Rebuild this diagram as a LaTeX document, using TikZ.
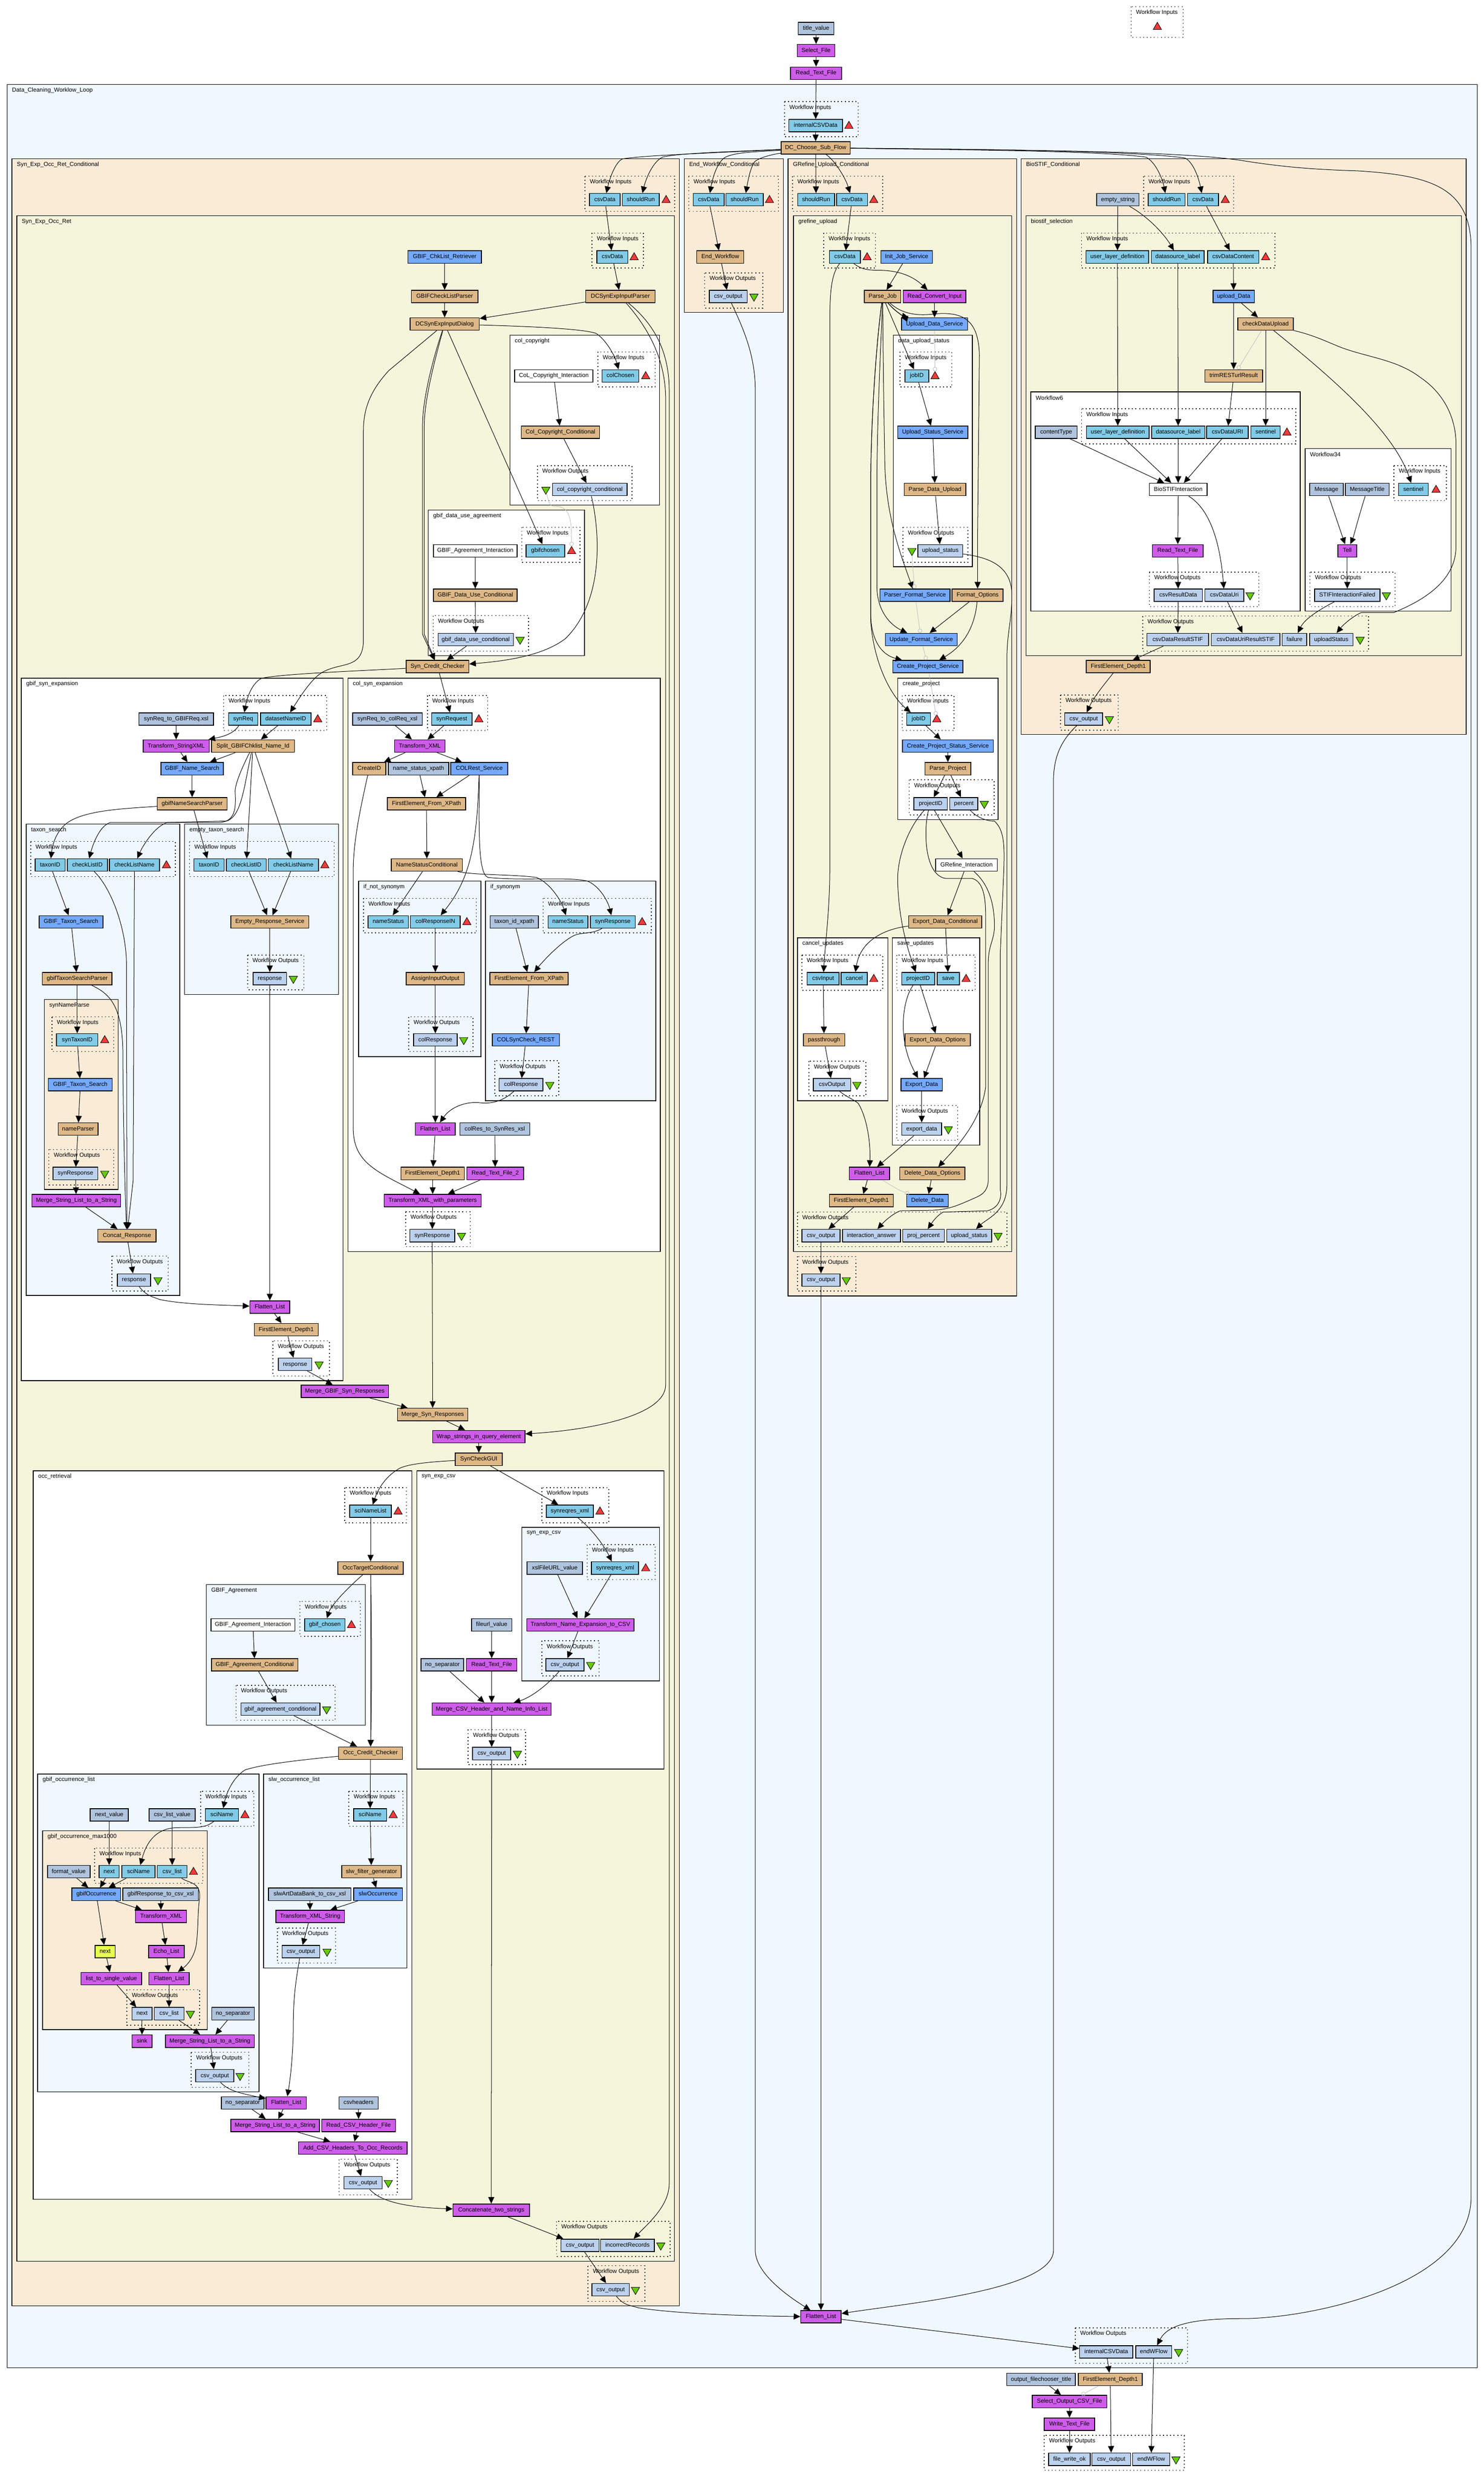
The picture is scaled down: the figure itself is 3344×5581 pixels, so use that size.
\documentclass[tikz,border=0pt]{standalone}
\usepackage{fontspec}
\setmainfont{Liberation Sans}
\usetikzlibrary{arrows.meta,shapes.geometric}
\definecolor{cinport}{HTML}{82CBE8}
\definecolor{coutport}{HTML}{BBD1EE}
\definecolor{cbean}{HTML}{DEB887}
\definecolor{cservice}{HTML}{74A9FF}
\definecolor{clocal}{HTML}{CE5CEA}
\definecolor{cconst}{HTML}{B0C4DE}
\definecolor{cnext}{HTML}{E6FF4F}
\definecolor{calice}{HTML}{F0F8FF}
\definecolor{clinen}{HTML}{FAEBD7}
\definecolor{cbeige}{HTML}{F5F5DC}
\definecolor{cred}{HTML}{F53B3B}
\definecolor{cgreen}{HTML}{66CC00}
\tikzset{
  wd/.style={minimum width=#1*0.25pt},
  wfnode/.style={draw=black, line width=.42pt, inner sep=0pt, minimum height=7pt, text height=2.4pt, text depth=.7pt, font=\fontsize{3.3}{4}\selectfont},
  inport/.style={wfnode, fill=cinport},
  outport/.style={wfnode, fill=coutport},
  bean/.style={wfnode, fill=cbean},
  service/.style={wfnode, fill=cservice},
  localw/.style={wfnode, fill=clocal},
  const/.style={wfnode, fill=cconst},
  ixn/.style={wfnode, fill=white},
  nextw/.style={wfnode, fill=cnext},
  intri/.style={draw=black, line width=.25pt, fill=cred, regular polygon, regular polygon sides=3, minimum size=5.4pt, inner sep=0pt, yshift=-.25pt},
  outtri/.style={draw=black, line width=.25pt, fill=cgreen, regular polygon, regular polygon sides=3, shape border rotate=180, minimum size=5.4pt, inner sep=0pt},
  wfframe/.style={draw=black, line width=.4pt},
  wfdots/.style={draw=black, line width=.42pt, dash pattern=on .55pt off 1.45pt},
  wflabel/.style={anchor=west, inner sep=0pt, xshift=2.6pt, yshift=-3.3pt, font=\fontsize{3.3}{4}\selectfont},
  flow/.style={draw=black, line width=.28pt, -{Triangle[length=3.75pt,width=3.4pt]}},
  ctrl/.style={draw=black!25, line width=.25pt, -{Circle[open,length=2.4pt,width=2.4pt]}},
}
\newcommand\wfgroup[6]{%
  \draw[wfframe, fill=#1] (#2,#3) rectangle (#4,#5);
  \node[wflabel] (g#2y#3) at (#2,#3) {#6};}
\newcommand\wfports[5]{%
  \draw[wfdots] (#1,#2) rectangle (#3,#4);
  \node[wflabel] (p#1y#2) at (#1,#2) {#5};}
\catcode`\_=12
\begin{document}
\begin{tikzpicture}[x=.25pt, y=-.25pt]
\useasboundingbox (0,0) rectangle (3344,5581);
% frames, outermost first
\wfgroup{calice}{16}{190}{3329}{5335}{Data_Cleaning_Worklow_Loop}
\wfgroup{clinen}{27}{358}{1531}{5195}{Syn_Exp_Occ_Ret_Conditional}
\wfgroup{cbeige}{38}{486}{1520}{5095}{Syn_Exp_Occ_Ret}
\wfgroup{white}{1149}{755}{1486}{1138}{col_copyright}
\wfgroup{white}{965}{1149}{1317}{1477}{gbif_data_use_agreement}
\wfgroup{white}{48}{1528}{773}{3111}{gbif_syn_expansion}
\wfgroup{calice}{59}{1857}{405}{2919}{taxon_search}
\wfgroup{clinen}{100}{2252}{266}{2680}{synNameParse}
\wfgroup{calice}{416}{1857}{763}{2241}{empty_taxon_search}
\wfgroup{white}{784}{1528}{1488}{2820}{col_syn_expansion}
\wfgroup{calice}{808}{1985}{1084}{2381}{if_not_synonym}
\wfgroup{calice}{1094}{1985}{1478}{2480}{if_synonym}
\wfgroup{white}{75}{3314}{928}{4955}{occ_retrieval}
\wfgroup{calice}{465}{3570}{823}{3887}{GBIF_Agreement}
\wfgroup{calice}{85}{3997}{584}{4713}{gbif_occurrence_list}
\wfgroup{clinen}{96}{4125}{467}{4573}{gbif_occurrence_max1000}
\wfgroup{calice}{594}{3997}{917}{4434}{slw_occurrence_list}
\wfgroup{white}{939}{3314}{1496}{3986}{syn_exp_csv}
\wfgroup{calice}{1176}{3441}{1486}{3787}{syn_exp_csv}
\wfgroup{clinen}{1542}{358}{1765}{704}{End_Workflow_Conditional}
\wfgroup{clinen}{1776}{358}{2291}{2920}{GRefine_Upload_Conditional}
\wfgroup{cbeige}{1788}{486}{2280}{2820}{grefine_upload}
\wfgroup{white}{2013}{755}{2191}{1277}{data_upload_status}
\wfgroup{white}{2023}{1528}{2249}{1847}{create_project}
\wfgroup{white}{1797}{2113}{2001}{2480}{cancel_updates}
\wfgroup{white}{2011}{2113}{2208}{2580}{save_updates}
\wfgroup{clinen}{2301}{358}{3304}{1655}{BioSTIF_Conditional}
\wfgroup{cbeige}{2312}{486}{3293}{1477}{biostif_selection}
\wfgroup{white}{2323}{883}{2930}{1377}{Workflow6}
\wfgroup{white}{2941}{1011}{3270}{1377}{Workflow34}
% dotted port boxes
\wfports{2549}{15}{2666}{84}{Workflow Inputs}
\wfports{1768}{229}{1934}{308}{Workflow Inputs}
\wfports{1318}{397}{1520}{476}{Workflow Inputs}
\wfports{1334}{525}{1450}{604}{Workflow Inputs}
\wfports{1347}{793}{1476}{872}{Workflow Inputs}
\wfports{1211}{1049}{1424}{1128}{Workflow Outputs}
\wfports{1176}{1188}{1307}{1267}{Workflow Inputs}
\wfports{976}{1387}{1191}{1467}{Workflow Outputs}
\wfports{504}{1567}{736}{1646}{Workflow Inputs}
\wfports{69}{1896}{395}{1975}{Workflow Inputs}
\wfports{117}{2291}{256}{2369}{Workflow Inputs}
\wfports{110}{2590}{256}{2670}{Workflow Outputs}
\wfports{252}{2830}{379}{2909}{Workflow Outputs}
\wfports{427}{1896}{753}{1975}{Workflow Inputs}
\wfports{558}{2152}{685}{2230}{Workflow Outputs}
\wfports{615}{3021}{742}{3100}{Workflow Outputs}
\wfports{963}{1567}{1099}{1646}{Workflow Inputs}
\wfports{819}{2024}{1073}{2102}{Workflow Inputs}
\wfports{921}{2291}{1066}{2369}{Workflow Outputs}
\wfports{1224}{2024}{1468}{2102}{Workflow Inputs}
\wfports{1115}{2390}{1259}{2469}{Workflow Outputs}
\wfports{914}{2730}{1060}{2809}{Workflow Outputs}
\wfports{777}{3352}{916}{3431}{Workflow Inputs}
\wfports{676}{3608}{812}{3687}{Workflow Inputs}
\wfports{532}{3797}{755}{3876}{Workflow Outputs}
\wfports{1221}{3352}{1372}{3431}{Workflow Inputs}
\wfports{1323}{3480}{1476}{3559}{Workflow Inputs}
\wfports{1221}{3697}{1350}{3776}{Workflow Outputs}
\wfports{1055}{3897}{1184}{3976}{Workflow Outputs}
\wfports{452}{4036}{572}{4115}{Workflow Inputs}
\wfports{213}{4164}{457}{4243}{Workflow Inputs}
\wfports{286}{4483}{450}{4563}{Workflow Outputs}
\wfports{431}{4624}{561}{4703}{Workflow Outputs}
\wfports{786}{4036}{908}{4115}{Workflow Inputs}
\wfports{625}{4344}{756}{4423}{Workflow Outputs}
\wfports{764}{4865}{895}{4945}{Workflow Outputs}
\wfports{1254}{5005}{1510}{5084}{Workflow Outputs}
\wfports{1325}{5105}{1453}{5185}{Workflow Outputs}
\wfports{2423}{5245}{2676}{5325}{Workflow Outputs}
\wfports{2353}{5487}{2669}{5566}{Workflow Outputs}
\wfports{1552}{397}{1754}{476}{Workflow Inputs}
\wfports{1588}{615}{1719}{694}{Workflow Outputs}
\wfports{1786}{397}{1989}{476}{Workflow Inputs}
\wfports{1856}{525}{1973}{604}{Workflow Inputs}
\wfports{2028}{793}{2145}{872}{Workflow Inputs}
\wfports{2035}{1188}{2181}{1267}{Workflow Outputs}
\wfports{2033}{1567}{2150}{1646}{Workflow Inputs}
\wfports{2049}{1757}{2240}{1836}{Workflow Outputs}
\wfports{1807}{2152}{1989}{2231}{Workflow Inputs}
\wfports{1823}{2391}{1951}{2469}{Workflow Outputs}
\wfports{2021}{2152}{2197}{2231}{Workflow Inputs}
\wfports{2021}{2491}{2158}{2569}{Workflow Outputs}
\wfports{1797}{2731}{2269}{2809}{Workflow Outputs}
\wfports{1797}{2831}{1929}{2909}{Workflow Outputs}
\wfports{2577}{397}{2780}{476}{Workflow Inputs}
\wfports{2437}{525}{2873}{604}{Workflow Inputs}
\wfports{2437}{921}{2920}{1000}{Workflow Inputs}
\wfports{2590}{1289}{2837}{1367}{Workflow Outputs}
\wfports{3141}{1049}{3259}{1128}{Workflow Inputs}
\wfports{2952}{1289}{3144}{1367}{Workflow Outputs}
\wfports{2575}{1388}{3084}{1467}{Workflow Outputs}
\wfports{2390}{1566}{2520}{1645}{Workflow Outputs}
% top of the page
\node[const, wd=80] (titleval) at (1839,64) {title_value};
\node[localw, wd=85] (selectfile) at (1839,114) {Select_File};
\node[localw, wd=115] (readtext) at (1839,165) {Read_Text_File};
\node[intri] (toptri) at (2608,60) {};
% main loop
\node[inport, wd=121] (mcsv) at (1838,283) {internalCSVData};
\node[intri] (mtri) at (1913,283) {};
\node[bean, wd=156] (dcchoose) at (1838,333) {DC_Choose_Sub_Flow};
\node[localw, wd=91] (mflat) at (1850,5220) {Flatten_List};
\node[outport, wd=120] (mocsv) at (2493,5299) {internalCSVData};
\node[outport, wd=81] (moend) at (2600,5299) {endWFlow};
\node[outtri] (motri) at (2656,5299) {};
\node[const, wd=155] (filetitle) at (2346,5361) {output_filechooser_title};
\node[bean, wd=144] (mfirst) at (2502,5361) {FirstElement_Depth1};
\node[localw, wd=168] (selectout) at (2410,5411) {Select_Output_CSV_File};
\node[localw, wd=114] (writetext) at (2410,5462) {Write_Text_File};
\node[outport, wd=94] (fileok) at (2410,5541) {file_write_ok};
\node[outport, wd=87] (fcsv) at (2504,5541) {csv_output};
\node[outport, wd=84] (fend) at (2594,5541) {endWFlow};
\node[outtri] (ftri) at (2650,5541) {};
% Syn_Exp_Occ_Ret_Conditional
\node[inport, wd=69] (scsv) at (1363,450) {csvData};
\node[inport, wd=83] (srun) at (1444,450) {shouldRun};
\node[intri] (stri) at (1501,450) {};
\node[inport, wd=70] (rcsv) at (1380,579) {csvData};
\node[intri] (rtri) at (1429,579) {};
\node[service, wd=166] (chklist) at (1002,579) {GBIF_ChkList_Retriever};
\node[bean, wd=150] (chkparser) at (1002,668) {GBIFCheckListParser};
\node[bean, wd=156] (inparser) at (1398,668) {DCSynExpInputParser};
\node[bean, wd=156] (indialog) at (1002,730) {DCSynExpInputDialog};
% col_copyright
\node[ixn, wd=176] (ccia) at (1248,847) {CoL_Copyright_Interaction};
\node[inport, wd=83] (ccin) at (1398,847) {colChosen};
\node[intri] (cctri) at (1455,847) {};
\node[bean, wd=176] (cccond) at (1263,974) {Col_Copyright_Conditional};
\node[outport, wd=168] (ccout) at (1329,1103) {col_copyright_conditional};
\node[outtri] (ccotri) at (1230,1103) {};
% gbif_data_use_agreement
\node[ixn, wd=189] (gdia) at (1071,1241) {GBIF_Agreement_Interaction};
\node[inport, wd=87] (gdin) at (1229,1241) {gbifchosen};
\node[intri] (gdtri) at (1288,1241) {};
\node[bean, wd=189] (gdcond) at (1071,1341) {GBIF_Data_Use_Conditional};
\node[outport, wd=170] (gdout) at (1072,1441) {gbif_data_use_conditional};
\node[outtri] (gdotri) at (1172,1441) {};
\node[bean, wd=141] (syncredit) at (986,1502) {Syn_Credit_Checker};
% gbif_syn_expansion
\node[const, wd=168] (gsxsl) at (397,1620) {synReq_to_GBIFReq.xsl};
\node[inport, wd=66] (gsreq) at (548,1620) {synReq};
\node[inport, wd=114] (gsdata) at (644,1620) {datasetNameID};
\node[intri] (gstri) at (716,1620) {};
\node[localw, wd=149] (gstrans) at (397,1681) {Transform_StringXML};
\node[bean, wd=187] (gssplit) at (570,1681) {Split_GBIFChklist_Name_Id};
\node[service, wd=141] (gssearch) at (433,1732) {GBIF_Name_Search};
\node[bean, wd=157] (gsparser) at (433,1811) {gbifNameSearchParser};
% taxon_search
\node[inport, wd=68] (tstaxon) at (113,1949) {taxonID};
\node[inport, wd=90] (tsid) at (197,1949) {checkListID};
\node[inport, wd=113] (tsname) at (303,1949) {checkListName};
\node[intri] (tstri) at (375,1949) {};
\node[service, wd=144] (tssearch) at (160,2077) {GBIF_Taxon_Search};
\node[bean, wd=157] (tsparser) at (174,2205) {gbifTaxonSearchParser};
\node[inport, wd=93] (sntaxon) at (174,2343) {synTaxonID};
\node[intri] (sntri) at (236,2343) {};
\node[service, wd=144] (snsearch) at (181,2444) {GBIF_Taxon_Search};
\node[bean, wd=90] (snparser) at (176,2544) {nameParser};
\node[outport, wd=101] (snout) at (170,2644) {synResponse};
\node[outtri] (snotri) at (236,2644) {};
\node[localw, wd=200] (tsmerge) at (172,2705) {Merge_String_List_to_a_String};
\node[bean, wd=131] (tsconcat) at (286,2784) {Concat_Response};
\node[outport, wd=75] (tsout) at (302,2884) {response};
\node[outtri] (tsotri) at (356,2884) {};
% empty_taxon_search
\node[inport, wd=68] (ettaxon) at (471,1949) {taxonID};
\node[inport, wd=90] (etid) at (555,1949) {checkListID};
\node[inport, wd=113] (etname) at (661,1949) {checkListName};
\node[intri] (ettri) at (732,1949) {};
\node[bean, wd=176] (etservice) at (608,2077) {Empty_Response_Service};
\node[outport, wd=75] (etout) at (608,2205) {response};
\node[outtri] (etotri) at (661,2205) {};
\node[localw, wd=90] (gsflat) at (608,2945) {Flatten_List};
\node[bean, wd=144] (gsfirst) at (645,2996) {FirstElement_Depth1};
\node[outport, wd=75] (gsout) at (665,3074) {response};
\node[outtri] (gsotri) at (719,3074) {};
\node[localw, wd=197] (gsmerge) at (777,3135) {Merge_GBIF_Syn_Responses};
% col_syn_expansion
\node[const, wd=157] (csxsl) at (873,1620) {synReq_to_colReq_xsl};
\node[inport, wd=91] (csreq) at (1018,1620) {synRequest};
\node[intri] (cstri) at (1079,1620) {};
\node[localw, wd=114] (cstrans) at (946,1681) {Transform_XML};
\node[bean, wd=75] (cscreate) at (832,1732) {CreateID};
\node[const, wd=136] (csxpath) at (943,1732) {name_status_xpath};
\node[service, wd=128] (csrest) at (1080,1732) {COLRest_Service};
\node[bean, wd=176] (csfirst) at (961,1811) {FirstElement_From_XPath};
\node[bean, wd=160] (cscond) at (962,1949) {NameStatusConditional};
% if_not_synonym
\node[inport, wd=91] (nsname) at (875,2077) {nameStatus};
\node[inport, wd=112] (nsresp) at (981,2077) {colResponseIN};
\node[intri] (nstri) at (1052,2077) {};
\node[bean, wd=131] (nsassign) at (981,2205) {AssignInputOutput};
\node[outport, wd=98] (nsout) at (981,2343) {colResponse};
\node[outtri] (nsotri) at (1045,2343) {};
% if_synonym
\node[const, wd=109] (ysxpath) at (1159,2077) {taxon_id_xpath};
\node[inport, wd=90] (ysname) at (1280,2077) {nameStatus};
\node[inport, wd=101] (ysresp) at (1381,2077) {synResponse};
\node[intri] (ystri) at (1447,2077) {};
\node[bean, wd=176] (ysfirst) at (1192,2205) {FirstElement_From_XPath};
\node[service, wd=151] (ysrest) at (1185,2343) {COLSynCheck_REST};
\node[outport, wd=99] (ysout) at (1174,2444) {colResponse};
\node[outtri] (ysotri) at (1239,2444) {};
\node[localw, wd=90] (csflat) at (981,2544) {Flatten_List};
\node[const, wd=157] (csresxsl) at (1115,2544) {colRes_to_SynRes_xsl};
\node[bean, wd=143] (csdepth) at (975,2644) {FirstElement_Depth1};
\node[localw, wd=128] (csread) at (1116,2644) {Read_Text_File_2};
\node[localw, wd=219] (cstransp) at (975,2705) {Transform_XML_with_parameters};
\node[outport, wd=101] (csout) at (974,2784) {synResponse};
\node[outtri] (csotri) at (1040,2784) {};
\node[bean, wd=158] (mergesyn) at (975,3187) {Merge_Syn_Responses};
\node[localw, wd=208] (wrapq) at (1079,3237) {Wrap_strings_in_query_element};
\node[bean, wd=106] (syncheck) at (1079,3288) {SynCheckGUI};
% occ_retrieval
\node[inport, wd=94] (orname) at (835,3405) {sciNameList};
\node[intri] (ortri) at (897,3405) {};
\node[bean, wd=147] (ortarget) at (835,3533) {OccTargetConditional};
\node[ixn, wd=189] (gaia) at (570,3661) {GBIF_Agreement_Interaction};
\node[inport, wd=91] (gain) at (732,3661) {gbif_chosen};
\node[intri] (gatri) at (792,3661) {};
\node[bean, wd=195] (gacond) at (574,3751) {GBIF_Agreement_Conditional};
\node[outport, wd=178] (gaout) at (632,3851) {gbif_agreement_conditional};
\node[outtri] (gaotri) at (736,3851) {};
\node[bean, wd=144] (occredit) at (835,3950) {Occ_Credit_Checker};
% gbif_occurrence_list
\node[const, wd=86] (olnext) at (246,4089) {next_value};
\node[const, wd=104] (olcsv) at (388,4089) {csv_list_value};
\node[inport, wd=75] (olname) at (500,4089) {sciName};
\node[intri] (oltri) at (552,4089) {};
\node[const, wd=96] (mxformat) at (155,4217) {format_value};
\node[inport, wd=45] (mxnext) at (246,4217) {next};
\node[inport, wd=75] (mxname) at (312,4217) {sciName};
\node[inport, wd=67] (mxcsv) at (388,4217) {csv_list};
\node[intri] (mxtri) at (436,4217) {};
\node[service, wd=110] (mxocc) at (217,4268) {gbifOccurrence};
\node[const, wd=170] (mxxsl) at (362,4268) {gbifResponse_to_csv_xsl};
\node[localw, wd=115] (mxtrans) at (363,4318) {Transform_XML};
\node[nextw, wd=45] (mxyes) at (237,4397) {next};
\node[localw, wd=80] (mxecho) at (375,4397) {Echo_List};
\node[localw, wd=137] (mxsingle) at (251,4458) {list_to_single_value};
\node[localw, wd=91] (mxflat) at (381,4458) {Flatten_List};
\node[outport, wd=45] (mxonext) at (320,4537) {next};
\node[outport, wd=67] (mxocsv) at (381,4537) {csv_list};
\node[outtri] (mxotri) at (429,4537) {};
\node[const, wd=96] (olsep) at (525,4537) {no_separator};
\node[localw, wd=45] (olsink) at (320,4599) {sink};
\node[localw, wd=200] (olmerge) at (473,4599) {Merge_String_List_to_a_String};
\node[outport, wd=86] (olout) at (484,4677) {csv_output};
\node[outtri] (olotri) at (541,4677) {};
% slw_occurrence_list
\node[inport, wd=74] (swname) at (834,4089) {sciName};
\node[intri] (swtri) at (886,4089) {};
\node[bean, wd=134] (swfilter) at (837,4217) {slw_filter_generator};
\node[const, wd=186] (swxsl) at (698,4268) {slwArtDataBank_to_csv_xsl};
\node[service, wd=110] (swocc) at (852,4268) {slwOccurrence};
\node[localw, wd=155] (swtrans) at (699,4318) {Transform_XML_String};
\node[outport, wd=85] (swout) at (678,4397) {csv_output};
\node[outtri] (swotri) at (737,4397) {};
\node[const, wd=96] (orsep) at (547,4738) {no_separator};
\node[localw, wd=91] (orflat) at (645,4738) {Flatten_List};
\node[const, wd=88] (orheads) at (808,4738) {csvheaders};
\node[localw, wd=200] (ormerge) at (620,4789) {Merge_String_List_to_a_String};
\node[localw, wd=166] (orread) at (808,4789) {Read_CSV_Header_File};
\node[localw, wd=245] (oradd) at (795,4840) {Add_CSV_Headers_To_Occ_Records};
\node[outport, wd=86] (orout) at (818,4918) {csv_output};
\node[outtri] (orotri) at (875,4918) {};
% syn_exp_csv
\node[inport, wd=106] (seres) at (1284,3405) {synreqres_xml};
\node[intri] (setri) at (1352,3405) {};
\node[const, wd=125] (sixsl) at (1250,3533) {xslFileURL_value};
\node[inport, wd=106] (sires) at (1386,3533) {synreqres_xml};
\node[intri] (sitri) at (1455,3533) {};
\node[localw, wd=242] (sitrans) at (1308,3661) {Transform_Name_Expansion_to_CSV};
\node[outport, wd=86] (siout) at (1273,3751) {csv_output};
\node[outtri] (siotri) at (1331,3751) {};
\node[const, wd=91] (sefile) at (1108,3661) {fileurl_value};
\node[const, wd=96] (sesep) at (997,3751) {no_separator};
\node[localw, wd=114] (seread) at (1108,3751) {Read_Text_File};
\node[localw, wd=268] (semerge) at (1108,3851) {Merge_CSV_Header_and_Name_Info_List};
\node[outport, wd=86] (seout) at (1108,3951) {csv_output};
\node[outtri] (seotri) at (1166,3951) {};
\node[localw, wd=172] (concat) at (1107,4980) {Concatenate_two_strings};
\node[outport, wd=86] (rcsvout) at (1307,5059) {csv_output};
\node[outport, wd=121] (rbad) at (1414,5059) {incorrectRecords};
\node[outtri] (rotri) at (1489,5059) {};
\node[outport, wd=84] (scsvout) at (1376,5159) {csv_output};
\node[outtri] (sotri) at (1432,5159) {};
% End_Workflow_Conditional
\node[inport, wd=70] (ecsv) at (1597,450) {csvData};
\node[inport, wd=84] (erun) at (1678,450) {shouldRun};
\node[intri] (etri) at (1734,450) {};
\node[bean, wd=106] (eend) at (1623,579) {End_Workflow};
\node[outport, wd=85] (eout) at (1641,668) {csv_output};
\node[outtri] (eotri) at (1699,668) {};
% GRefine_Upload_Conditional
\node[inport, wd=83] (urun) at (1839,450) {shouldRun};
\node[inport, wd=70] (ucsv) at (1920,450) {csvData};
\node[intri] (utri) at (1969,450) {};
\node[inport, wd=70] (gucsv) at (1904,579) {csvData};
\node[intri] (gutri) at (1954,579) {};
\node[service, wd=116] (guinit) at (2043,579) {Init_Job_Service};
\node[bean, wd=82] (guparse) at (1989,668) {Parse_Job};
\node[localw, wd=141] (guread) at (2106,668) {Read_Convert_Input};
\node[service, wd=149] (guupload) at (2106,730) {Upload_Data_Service};
\node[inport, wd=54] (dujob) at (2066,847) {jobID};
\node[intri] (dutri) at (2107,847) {};
\node[service, wd=158] (dustatus) at (2102,974) {Upload_Status_Service};
\node[bean, wd=139] (duparse) at (2107,1103) {Parse_Data_Upload};
\node[outport, wd=101] (duout) at (2119,1241) {upload_status};
\node[outtri] (duotri) at (2055,1241) {};
\node[service, wd=158] (guformat) at (2062,1341) {Parser_Format_Service};
\node[bean, wd=115] (guoptions) at (2203,1341) {Format_Options};
\node[service, wd=162] (guupdate) at (2076,1441) {Update_Format_Service};
\node[service, wd=158] (gucreate) at (2091,1502) {Create_Project_Service};
\node[inport, wd=54] (cpjob) at (2070,1620) {jobID};
\node[intri] (cptri) at (2111,1620) {};
\node[service, wd=205] (cpstatus) at (2136,1681) {Create_Project_Status_Service};
\node[bean, wd=103] (cpparse) at (2136,1732) {Parse_Project};
\node[outport, wd=75] (cpid) at (2097,1811) {projectID};
\node[outport, wd=63] (cppct) at (2172,1811) {percent};
\node[outtri] (cpotri) at (2218,1811) {};
\node[ixn, wd=139] (guixn) at (2178,1949) {GRefine_Interaction};
\node[bean, wd=165] (guexport) at (2130,2077) {Export_Data_Conditional};
% cancel_updates
\node[inport, wd=72] (cuin) at (1855,2205) {csvInput};
\node[inport, wd=59] (cucancel) at (1925,2205) {cancel};
\node[intri] (cutri) at (1969,2205) {};
\node[bean, wd=93] (cupass) at (1857,2343) {passthrough};
\node[outport, wd=84] (cuout) at (1875,2444) {csvOutput};
\node[outtri] (cuotri) at (1931,2444) {};
% save_updates
\node[inport, wd=74] (suid) at (2069,2205) {projectID};
\node[inport, wd=50] (susave) at (2137,2205) {save};
\node[intri] (sutri) at (2177,2205) {};
\node[bean, wd=147] (suopts) at (2113,2343) {Export_Data_Options};
\node[service, wd=93] (suexport) at (2077,2444) {Export_Data};
\node[outport, wd=90] (suout) at (2077,2544) {export_data};
\node[outtri] (suotri) at (2137,2544) {};
\node[localw, wd=91] (guflat) at (1959,2644) {Flatten_List};
\node[bean, wd=147] (gudelopts) at (2101,2644) {Delete_Data_Options};
\node[bean, wd=144] (gufirst) at (1941,2705) {FirstElement_Depth1};
\node[service, wd=94] (gudelete) at (2090,2705) {Delete_Data};
\node[outport, wd=86] (guocsv) at (1850,2784) {csv_output};
\node[outport, wd=131] (guoans) at (1964,2784) {interaction_answer};
\node[outport, wd=94] (guopct) at (2081,2784) {proj_percent};
\node[outport, wd=101] (guostat) at (2184,2784) {upload_status};
\node[outtri] (guotri) at (2249,2784) {};
\node[outport, wd=86] (uout) at (1850,2884) {csv_output};
\node[outtri] (uotri) at (1907,2884) {};
% BioSTIF_Conditional
\node[const, wd=95] (bempty) at (2519,450) {empty_string};
\node[inport, wd=83] (brun) at (2629,450) {shouldRun};
\node[inport, wd=70] (bcsv) at (2711,450) {csvData};
\node[intri] (btri) at (2761,450) {};
\node[inport, wd=141] (buser) at (2518,579) {user_layer_definition};
\node[inport, wd=119] (bslabel) at (2654,579) {datasource_label};
\node[inport, wd=116] (bscontent) at (2779,579) {csvDataContent};
\node[intri] (bstri) at (2852,579) {};
\node[service, wd=93] (bsupload) at (2780,668) {upload_Data};
\node[bean, wd=125] (bscheck) at (2852,730) {checkDataUpload};
\node[bean, wd=130] (bstrim) at (2780,847) {trimRESTurlResult};
\node[const, wd=94] (wsctype) at (2380,974) {contentType};
\node[inport, wd=141] (wsuser) at (2519,974) {user_layer_definition};
\node[inport, wd=120] (wslabel) at (2655,974) {datasource_label};
\node[inport, wd=94] (wsuri) at (2766,974) {csvDataURI};
\node[inport, wd=66] (wssent) at (2852,974) {sentinel};
\node[intri] (wstri) at (2900,974) {};
\node[ixn, wd=130] (wsixn) at (2655,1103) {BioSTIFInteraction};
\node[localw, wd=114] (wsread) at (2654,1241) {Read_Text_File};
\node[outport, wd=109] (wsres) at (2655,1341) {csvResultData};
\node[outport, wd=88] (wsresuri) at (2759,1341) {csvDataUri};
\node[outtri] (wsotri) at (2817,1341) {};
\node[const, wd=76] (wtmsg) at (2989,1103) {Message};
\node[const, wd=99] (wttitle) at (3081,1103) {MessageTitle};
\node[inport, wd=67] (wtsent) at (3185,1103) {sentinel};
\node[intri] (wttri) at (3236,1103) {};
\node[localw, wd=42] (wttell) at (3036,1241) {Tell};
\node[outport, wd=147] (wtout) at (3036,1341) {STIFInteractionFailed};
\node[outtri] (wtotri) at (3124,1341) {};
\node[outport, wd=139] (bsres) at (2654,1441) {csvDataResultSTIF};
\node[outport, wd=155] (bsuri) at (2807,1441) {csvDataUriResultSTIF};
\node[outport, wd=55] (bsfail) at (2917,1441) {failure};
\node[outport, wd=98] (bsstat) at (3000,1441) {uploadStatus};
\node[outtri] (bsotri) at (3065,1441) {};
\node[bean, wd=144] (bfirst) at (2520,1502) {FirstElement_Depth1};
\node[outport, wd=85] (bout) at (2442,1620) {csv_output};
\node[outtri] (botri) at (2500,1620) {};
% connectors, top of the page and main loop
\draw[flow] (titleval) -- (selectfile);
\draw[flow] (selectfile) -- (readtext);
\draw[flow] (readtext) -- (mcsv);
\draw[flow] (mcsv) -- (dcchoose);
\draw[flow] (dcchoose) .. controls (1600,345) and (1450,350) .. (1403,358) .. controls (1385,365) and (1372,410) .. (scsv);
\draw[flow] (dcchoose) .. controls (1640,342) and (1530,345) .. (1493,354) .. controls (1470,365) and (1455,405) .. (srun);
\draw[flow] (dcchoose) .. controls (1710,342) and (1660,342) .. (1635,354) .. controls (1615,365) and (1605,405) .. (ecsv);
\draw[flow] (dcchoose) .. controls (1740,348) and (1710,355) .. (1700,365) .. controls (1690,380) and (1685,410) .. (erun);
\draw[flow] (dcchoose) -- (urun);
\draw[flow] (dcchoose) .. controls (1880,360) and (1905,400) .. (ucsv);
\draw[flow] (dcchoose) .. controls (2200,338) and (2480,340) .. (2582,354) .. controls (2605,365) and (2620,405) .. (brun);
\draw[flow] (dcchoose) .. controls (2200,336) and (2560,340) .. (2670,356) .. controls (2690,365) and (2702,405) .. (bcsv);
\draw[flow] (dcchoose) .. controls (2300,338) and (2650,340) .. (2794,361) .. controls (2900,378) and (2970,382) .. (3060,385) .. controls (3220,395) and (3315,420) .. (3315,560) -- (3315,4950) .. controls (3315,5150) and (2950,5224) .. (2800,5224) .. controls (2680,5224) and (2630,5240) .. (moend);
\draw[flow] (mflat) -- (mocsv);
\draw[flow] (mocsv) -- (mfirst);
\draw[flow] (filetitle) -- (selectout);
\draw[ctrl] (mfirst) -- (selectout);
\draw[flow] (selectout) -- (writetext);
\draw[flow] (writetext) -- (fileok);
\draw[flow] (mfirst) -- (fcsv);
\draw[flow] (moend) -- (fend);
% Syn_Exp_Occ_Ret
\draw[flow] (scsv) -- (rcsv);
\draw[flow] (rcsv) -- (inparser);
\draw[flow] (chklist) -- (chkparser);
\draw[flow] (chkparser) -- (indialog);
\draw[flow] (inparser) -- (indialog);
\draw[flow] (inparser) .. controls (1470,750) and (1500,820) .. (1500,900) -- (1500,3120) .. controls (1500,3190) and (1330,3222) .. (wrapq);
\draw[flow] (inparser) .. controls (1480,735) and (1508,800) .. (1508,880) -- (1508,4920) .. controls (1508,4970) and (1460,5010) .. (rbad);
\draw[flow] (indialog) .. controls (1180,735) and (1310,740) .. (1343,751) .. controls (1365,765) and (1385,800) .. (ccin);
\draw[flow] (indialog) -- (gdin);
\draw[flow] (indialog) -- (876,835) .. controls (835,880) and (819,920) .. (819,970) -- (819,1440) .. controls (819,1510) and (770,1490) .. (726,1515) .. controls (700,1530) and (670,1580) .. (gsdata);
\draw[flow] (indialog) .. controls (975,810) and (952,900) .. (952,961) -- (952,1429) -- (syncredit);
\draw[flow] (indialog) .. controls (980,810) and (956,900) .. (956,961) -- (956,1429) -- (syncredit);
\draw[flow] (ccia) -- (cccond);
\draw[flow] (cccond) -- (ccout);
\draw[ctrl] (ccotri) .. controls (1236,1130) and (1238,1141) .. (1250,1141) .. controls (1285,1140) and (1288,1170) .. (gdtri);
\draw[flow] (ccout) .. controls (1350,1190) and (1365,1350) .. (1274,1439) .. controls (1220,1480) and (1130,1490) .. (syncredit);
\draw[flow] (gdia) -- (gdcond);
\draw[flow] (gdcond) -- (gdout);
\draw[flow] (gdout) -- (syncredit);
% gbif_syn_expansion
\draw[flow] (syncredit) .. controls (800,1512) and (640,1518) .. (590,1528) .. controls (565,1540) and (555,1580) .. (gsreq);
\draw[flow] (gsxsl) -- (gstrans);
\draw[flow] (gsreq) .. controls (525,1655) and (500,1660) .. (gstrans);
\draw[flow] (gsdata) -- (gssplit);
\draw[flow] (gstrans) -- (gssearch);
\draw[flow] (gssplit) -- (gssearch);
\draw[flow] (gssearch) -- (gsparser);
\draw[flow] (gsparser) .. controls (280,1822) and (190,1825) .. (150,1855) .. controls (125,1875) and (118,1905) .. (tstaxon);
\draw[flow] (gsparser) -- (ettaxon);
\draw[flow] (gssplit) .. controls (545,1730) and (528,1770) .. (530,1786) .. controls (532,1820) and (530,1850) .. (497,1853) -- (249,1853) .. controls (225,1860) and (210,1900) .. (tsid);
\draw[flow] (gssplit) .. controls (550,1770) and (545,1840) .. (510,1850) -- (378,1853) .. controls (350,1860) and (322,1905) .. (tsname);
\draw[flow] (gssplit) -- (etid);
\draw[flow] (gssplit) -- (etname);
\draw[flow] (tstaxon) -- (tssearch);
\draw[flow] (tssearch) -- (tsparser);
\draw[flow] (tsparser) -- (sntaxon);
\draw[flow] (tsparser) .. controls (250,2240) and (277,2270) .. (277,2380) .. controls (277,2500) and (282,2700) .. (tsconcat);
\draw[flow] (tsid) .. controls (250,2000) and (284,2090) .. (285,2170) -- (286,2700) -- (tsconcat);
\draw[flow] (tsname) -- (300,2660) -- (tsconcat);
\draw[flow] (sntaxon) -- (snsearch);
\draw[flow] (snsearch) -- (snparser);
\draw[flow] (snparser) -- (snout);
\draw[flow] (snout) -- (tsmerge);
\draw[flow] (tsmerge) -- (tsconcat);
\draw[flow] (tsconcat) -- (tsout);
\draw[flow] (tsout) .. controls (330,2920) and (345,2922) .. (360,2928) .. controls (420,2940) and (500,2940) .. (gsflat);
\draw[flow] (etid) -- (etservice);
\draw[flow] (etname) -- (etservice);
\draw[flow] (etservice) -- (etout);
\draw[flow] (etout) -- (gsflat);
\draw[flow] (gsflat) -- (gsfirst);
\draw[flow] (gsfirst) -- (gsout);
\draw[flow] (gsout) -- (gsmerge);
\draw[flow] (gsmerge) -- (mergesyn);
% col_syn_expansion
\draw[flow] (syncredit) -- (csreq);
\draw[flow] (csxsl) -- (cstrans);
\draw[flow] (csreq) -- (cstrans);
\draw[flow] (cstrans) -- (cscreate);
\draw[flow] (cstrans) -- (csrest);
\draw[flow] (csxpath) -- (csfirst);
\draw[flow] (csrest) -- (csfirst);
\draw[flow] (csfirst) -- (cscond);
\draw[flow] (cscond) -- (nsname);
\draw[flow] (cscond) .. controls (1070,1972) and (1160,1970) .. (1209,1977) .. controls (1240,1990) and (1265,2030) .. (ysname);
\draw[flow] (csrest) .. controls (1075,1900) and (1060,1980) .. (nsresp);
\draw[flow] (csrest) .. controls (1080,1850) and (1075,1970) .. (1100,1977) .. controls (1180,1985) and (1280,1975) .. (1323,1985) .. controls (1350,1995) and (1370,2030) .. (ysresp);
\draw[flow] (nsresp) -- (nsassign);
\draw[flow] (nsassign) -- (nsout);
\draw[flow] (nsout) -- (csflat);
\draw[flow] (ysxpath) -- (ysfirst);
\draw[flow] (ysresp) .. controls (1335,2105) and (1310,2100) .. (1293,2108) .. controls (1260,2125) and (1220,2170) .. (ysfirst);
\draw[flow] (ysfirst) -- (ysrest);
\draw[flow] (ysrest) -- (ysout);
\draw[flow] (ysout) .. controls (1135,2480) and (1110,2487) .. (1085,2485) .. controls (1050,2480) and (1015,2495) .. (csflat);
\draw[flow] (csflat) -- (csdepth);
\draw[flow] (csresxsl) -- (csread);
\draw[flow] (csdepth) -- (cstransp);
\draw[flow] (csread) -- (cstransp);
\draw[flow] (cscreate) .. controls (810,1830) and (796,1900) .. (796,1962) -- (796,2542) .. controls (796,2620) and (850,2640) .. (cstransp);
\draw[flow] (cstransp) -- (csout);
\draw[flow] (csout) -- (mergesyn);
\draw[flow] (mergesyn) -- (wrapq);
\draw[flow] (wrapq) -- (syncheck);
% occ_retrieval
\draw[flow] (syncheck) .. controls (960,3294) and (910,3300) .. (896,3311) .. controls (865,3330) and (850,3360) .. (orname);
\draw[flow] (orname) -- (ortarget);
\draw[flow] (ortarget) .. controls (775,3585) and (745,3620) .. (gain);
\draw[flow] (ortarget) -- (occredit);
\draw[flow] (ortarget) .. controls (838,3700) and (838,3800) .. (occredit);
\draw[flow] (gaia) -- (gacond);
\draw[flow] (gacond) -- (gaout);
\draw[flow] (gaout) -- (occredit);
\draw[flow] (occredit) .. controls (680,3965) and (590,3975) .. (552,3988) .. controls (525,4005) and (510,4040) .. (olname);
\draw[flow] (occredit) -- (swname);
\draw[flow] (olnext) -- (mxnext);
\draw[flow] (olcsv) -- (mxcsv);
\draw[flow] (olname) .. controls (462,4120) and (440,4117) .. (400,4118) .. controls (340,4118) and (325,4170) .. (mxname);
\draw[flow] (mxformat) -- (mxocc);
\draw[flow] (mxnext) -- (mxocc);
\draw[flow] (mxname) -- (mxocc);
\draw[flow] (mxcsv) .. controls (425,4243) and (452,4240) .. (450,4275) .. controls (445,4310) and (447,4340) .. (443,4376) .. controls (440,4405) and (425,4425) .. (mxflat);
\draw[flow] (mxocc) -- (mxtrans);
\draw[flow] (mxxsl) -- (mxtrans);
\draw[flow] (mxocc) -- (mxyes);
\draw[flow] (mxtrans) -- (mxecho);
\draw[flow] (mxecho) -- (mxflat);
\draw[flow] (mxyes) -- (mxsingle);
\draw[flow] (mxsingle) -- (mxonext);
\draw[flow] (mxflat) -- (mxocsv);
\draw[flow] (mxonext) -- (olsink);
\draw[flow] (mxocsv) -- (olmerge);
\draw[flow] (olsep) -- (olmerge);
\draw[flow] (olmerge) -- (olout);
\draw[flow] (olout) .. controls (515,4712) and (550,4718) .. (orflat);
\draw[flow] (swname) -- (swfilter);
\draw[flow] (swfilter) -- (swocc);
\draw[flow] (swxsl) -- (swtrans);
\draw[flow] (swocc) -- (swtrans);
\draw[flow] (swtrans) -- (swout);
\draw[flow] (swout) .. controls (665,4470) and (661,4510) .. (661,4560) .. controls (661,4620) and (655,4680) .. (orflat);
\draw[flow] (orsep) -- (ormerge);
\draw[flow] (orflat) -- (ormerge);
\draw[flow] (orheads) -- (orread);
\draw[flow] (ormerge) -- (oradd);
\draw[flow] (orread) -- (oradd);
\draw[flow] (oradd) -- (orout);
\draw[flow] (orout) .. controls (850,4950) and (880,4972) .. (concat);
% syn_exp_csv
\draw[flow] (syncheck) -- (seres);
\draw[flow] (seres) .. controls (1340,3450) and (1365,3490) .. (sires);
\draw[flow] (sixsl) -- (sitrans);
\draw[flow] (sires) -- (sitrans);
\draw[flow] (sitrans) -- (siout);
\draw[flow] (siout) .. controls (1230,3800) and (1195,3825) .. (semerge);
\draw[flow] (sefile) -- (seread);
\draw[flow] (sesep) -- (semerge);
\draw[flow] (seread) -- (semerge);
\draw[flow] (semerge) -- (seout);
\draw[flow] (seout) -- (concat);
\draw[flow] (concat) -- (rcsvout);
\draw[flow] (rcsvout) -- (scsvout);
\draw[flow] (scsvout) .. controls (1405,5192) and (1410,5192) .. (1440,5200) .. controls (1540,5215) and (1700,5218) .. (mflat);
% End_Workflow_Conditional
\draw[flow] (ecsv) -- (eend);
\draw[flow] (eend) -- (eout);
\draw[flow] (eout) .. controls (1675,740) and (1702,800) .. (1702,880) -- (1702,5070) .. controls (1702,5120) and (1770,5170) .. (mflat);
% GRefine_Upload_Conditional
\draw[flow] (ucsv) -- (gucsv);
\draw[flow] (gucsv) .. controls (1935,602) and (1945,609) .. (1980,609) .. controls (2030,609) and (2060,625) .. (guread);
\draw[flow] (gucsv) .. controls (1875,615) and (1870,650) .. (1870,720) -- (1870,1950) .. controls (1870,2050) and (1860,2120) .. (cuin);
\draw[flow] (guinit) -- (guparse);
\draw[flow] (guparse) .. controls (2015,700) and (2035,712) .. (guupload);
\draw[flow] (guparse) .. controls (2020,705) and (2045,718) .. (guupload);
\draw[flow] (guread) -- (guupload);
\draw[flow] (guparse) .. controls (2030,705) and (2060,712) .. (2100,708) .. controls (2170,700) and (2205,720) .. (2207,800) -- (2203,1200) -- (guoptions);
\draw[flow] (guparse) -- (dujob);
\draw[flow] (guparse) .. controls (1990,800) and (1992,950) .. (1994,1050) .. controls (1998,1170) and (2030,1250) .. (guformat);
\draw[flow] (guparse) .. controls (1985,780) and (1976,950) .. (1976,1100) -- (1976,1320) .. controls (1976,1380) and (2010,1410) .. (guupdate);
\draw[flow] (guparse) .. controls (1975,770) and (1962,950) .. (1962,1100) -- (1962,1380) .. controls (1962,1440) and (1985,1475) .. (gucreate);
\draw[flow] (guparse) .. controls (1975,770) and (1962,950) .. (1962,1100) -- (1962,1400) .. controls (1970,1500) and (2010,1570) .. (cpjob);
\draw[ctrl] (guupload) -- (dutri);
\draw[flow] (dujob) -- (dustatus);
\draw[flow] (dustatus) -- (duparse);
\draw[flow] (duparse) -- (duout);
\draw[ctrl] (duotri) .. controls (2056,1270) and (2058,1290) .. (guformat);
\draw[ctrl] (guformat) -- (guupdate);
\draw[ctrl] (guupdate) -- (gucreate);
\draw[ctrl] (gucreate) -- (cptri);
\draw[flow] (guoptions) -- (guupdate);
\draw[flow] (guoptions) .. controls (2198,1400) and (2180,1450) .. (gucreate);
\draw[flow] (cpjob) -- (cpstatus);
\draw[flow] (cpstatus) -- (cpparse);
\draw[flow] (cpparse) -- (cpid);
\draw[flow] (cpparse) -- (cppct);
\draw[flow] (cpid) -- (guixn);
\draw[flow] (cpid) .. controls (2050,1860) and (2020,1930) .. (2023,1990) .. controls (2025,2050) and (2035,2110) .. (suid);
\draw[flow] (cpid) .. controls (2082,1860) and (2080,1970) .. (2130,1979) -- (2190,1979) .. controls (2215,1985) and (2221,2020) .. (2221,2060) -- (2221,2450) .. controls (2210,2530) and (2150,2590) .. (gudelopts);
\draw[flow] (cppct) .. controls (2200,1840) and (2220,1850) .. (2241,1850) .. controls (2262,1870) and (2264,1900) .. (2262,1960) -- (2254,2150) -- (2254,2680) .. controls (2260,2710) and (2240,2725) .. (2225,2728) -- (2125,2731) .. controls (2110,2740) and (2100,2755) .. (guopct);
\draw[flow] (guixn) -- (guexport);
\draw[flow] (guixn) .. controls (2225,1990) and (2241,2030) .. (2241,2088) .. controls (2240,2120) and (2227,2130) .. (2227,2170) -- (2227,2661) .. controls (2225,2690) and (2205,2695) .. (2190,2702) .. controls (2160,2715) and (2140,2725) .. (2100,2727) -- (2029,2728) .. controls (2010,2735) and (1990,2755) .. (guoans);
\draw[flow] (guexport) .. controls (2000,2092) and (1940,2115) .. (cucancel);
\draw[flow] (guexport) -- (susave);
\draw[flow] (cuin) -- (cupass);
\draw[flow] (cupass) -- (cuout);
\draw[flow] (cuout) .. controls (1905,2470) and (1920,2475) .. (1934,2486) .. controls (1955,2520) and (1962,2580) .. (guflat);
\draw[flow] (suid) -- (suopts);
\draw[flow] (suid) .. controls (2035,2250) and (2020,2340) .. (suexport);
\draw[flow] (suopts) -- (suexport);
\draw[flow] (suexport) -- (suout);
\draw[flow] (suout) -- (guflat);
\draw[flow] (guflat) -- (gufirst);
\draw[ctrl] (guflat) .. controls (2000,2665) and (2020,2680) .. (gudelete);
\draw[flow] (gudelopts) -- (gudelete);
\draw[flow] (gufirst) -- (guocsv);
\draw[flow] (guocsv) -- (uout);
\draw[flow] (duout) .. controls (2220,1255) and (2280,1270) .. (2280,1340) .. controls (2280,1400) and (2270,1420) .. (2269,1480) -- (2269,2670) .. controls (2269,2730) and (2225,2745) .. (guostat);
\draw[flow] (uout) -- (mflat);
% BioSTIF_Conditional
\draw[flow] (bempty) -- (buser);
\draw[flow] (bempty) .. controls (2590,490) and (2625,530) .. (bslabel);
\draw[flow] (bcsv) -- (bscontent);
\draw[flow] (bscontent) -- (bsupload);
\draw[flow] (bsupload) -- (bscheck);
\draw[flow] (bsupload) -- (bstrim);
\draw[ctrl] (bscheck) -- (bstrim);
\draw[flow] (buser) -- (wsuser);
\draw[flow] (bslabel) -- (wslabel);
\draw[flow] (bstrim) -- (wsuri);
\draw[flow] (bscheck) -- (wssent);
\draw[flow] (bscheck) .. controls (3000,850) and (3140,970) .. (wtsent);
\draw[flow] (bscheck) .. controls (2960,755) and (2990,770) .. (3020,782) .. controls (3080,805) and (3148,810) .. (3200,850) .. controls (3260,890) and (3281,950) .. (3281,1000) -- (3281,1233) .. controls (3280,1290) and (3240,1340) .. (3141,1380) -- (3068,1380) .. controls (3045,1390) and (3025,1410) .. (bsstat);
\draw[flow] (wsctype) -- (wsixn);
\draw[flow] (wsuser) -- (wsixn);
\draw[flow] (wslabel) -- (wsixn);
\draw[flow] (wsuri) -- (wsixn);
\draw[flow] (wsixn) -- (wsread);
\draw[flow] (wsixn) .. controls (2730,1150) and (2750,1230) .. (wsresuri);
\draw[flow] (wsread) -- (wsres);
\draw[flow] (wsres) -- (bsres);
\draw[flow] (wsresuri) -- (bsuri);
\draw[flow] (wtmsg) -- (wttell);
\draw[flow] (wttitle) .. controls (3060,1170) and (3050,1210) .. (wttell);
\draw[flow] (wttell) -- (wtout);
\draw[flow] (wtout) .. controls (2970,1375) and (2940,1395) .. (bsfail);
\draw[flow] (bsres) -- (bfirst);
\draw[flow] (bfirst) .. controls (2490,1540) and (2465,1570) .. (bout);
\draw[flow] (bout) .. controls (2395,1665) and (2374,1700) .. (2374,1760) -- (2374,5070) .. controls (2374,5160) and (2040,5190) .. (mflat);
\end{tikzpicture}
\end{document}
